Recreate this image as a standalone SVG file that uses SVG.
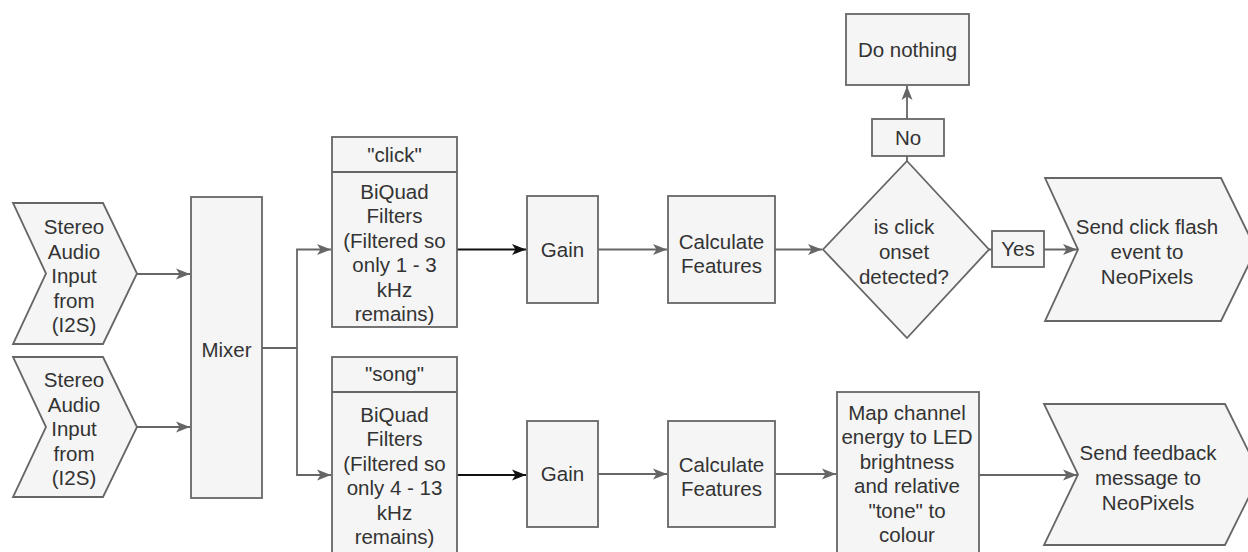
<svg xmlns="http://www.w3.org/2000/svg" width="1248" height="552" viewBox="0 0 1248 552">
<style>
.n{fill:#f5f5f5;stroke:#666;stroke-width:1.8}
.t{font-family:"Liberation Sans",Arial,Helvetica,sans-serif;font-size:20.5px;fill:#333;text-anchor:middle}
.c{fill:none;stroke:#666;stroke-width:1.8}
.k{fill:none;stroke:#111;stroke-width:1.8}
</style>
<defs>
<marker id="a" markerUnits="userSpaceOnUse" markerWidth="16" markerHeight="12" refX="14" refY="6" orient="auto">
<path d="M0,0.5 L14,6 L0,11.5 L3.5,6 z" fill="#666"/>
</marker>
<marker id="b" markerUnits="userSpaceOnUse" markerWidth="16" markerHeight="12" refX="14" refY="6" orient="auto">
<path d="M0,0.5 L14,6 L0,11.5 L3.5,6 z" fill="#111"/>
</marker>
</defs>
<rect width="1248" height="552" fill="#fff"/>

<g id="connectors">
<path class="c" d="M137,274 H190" marker-end="url(#a)"/>
<path class="c" d="M137,427 H190" marker-end="url(#a)"/>
<path class="c" d="M262,348 H297 V249.5 H331" marker-end="url(#a)"/>
<path class="c" d="M297,348 V475 H331" marker-end="url(#a)"/>
<path class="k" d="M457,249.5 H526" marker-end="url(#b)"/>
<path class="k" d="M457,475 H526" marker-end="url(#b)"/>
<path class="c" d="M598,249.5 H667" marker-end="url(#a)"/>
<path class="c" d="M598,474 H667" marker-end="url(#a)"/>
<path class="c" d="M775,249.5 H822" marker-end="url(#a)"/>
<path class="c" d="M775,474 H836" marker-end="url(#a)"/>
<path class="c" d="M907,161 V86" marker-end="url(#a)"/>
<path class="c" d="M989,249.5 H1077" marker-end="url(#a)"/>
<path class="c" d="M979,475 H1077" marker-end="url(#a)"/>
<g id="label-no"><rect class="n" x="872" y="119" width="72" height="37"/><text class="t" x="908" y="145">No</text></g>
<g id="label-yes"><rect class="n" x="992" y="231" width="52" height="36"/><text class="t" x="1018" y="256">Yes</text></g>
</g>

<g id="input1">
<path class="n" d="M13,203 H103 L137,273.5 L103,344 H13 L46,273.5 Z"/>
<text class="t" x="74"><tspan x="74" y="234">Stereo</tspan><tspan x="74" y="258.5">Audio</tspan><tspan x="74" y="283">Input</tspan><tspan x="74" y="307.5">from</tspan><tspan x="74" y="332">(I2S)</tspan></text>
</g>
<g id="input2">
<path class="n" d="M13,357 H103 L137,427 L103,497 H13 L46,427 Z"/>
<text class="t" x="74"><tspan x="74" y="387">Stereo</tspan><tspan x="74" y="411.5">Audio</tspan><tspan x="74" y="436">Input</tspan><tspan x="74" y="460.5">from</tspan><tspan x="74" y="485">(I2S)</tspan></text>
</g>
<g id="mixer">
<rect class="n" x="191" y="197" width="71" height="301"/>
<text class="t" x="226.5" y="357">Mixer</text>
</g>
<g id="click">
<rect class="n" x="332" y="137" width="125" height="190"/>
<line x1="332" y1="172" x2="457" y2="172" stroke="#666" stroke-width="1.8"/>
<text class="t" x="394.5" y="162">"click"</text>
<text class="t"><tspan x="394.5" y="199">BiQuad</tspan><tspan x="394.5" y="223.4">Filters</tspan><tspan x="394.5" y="247.8">(Filtered so</tspan><tspan x="394.5" y="272.2">only 1 - 3</tspan><tspan x="394.5" y="296.6">kHz</tspan><tspan x="394.5" y="321">remains)</tspan></text>
</g>
<g id="song">
<rect class="n" x="332" y="357" width="125" height="201"/>
<line x1="332" y1="392" x2="457" y2="392" stroke="#666" stroke-width="1.8"/>
<text class="t" x="394.5" y="381">"song"</text>
<text class="t"><tspan x="394.5" y="422">BiQuad</tspan><tspan x="394.5" y="446.4">Filters</tspan><tspan x="394.5" y="470.8">(Filtered so</tspan><tspan x="394.5" y="495.2">only 4 - 13</tspan><tspan x="394.5" y="519.6">kHz</tspan><tspan x="394.5" y="544">remains)</tspan></text>
</g>
<g id="gain1">
<rect class="n" x="527" y="196" width="71" height="107"/>
<text class="t" x="562.5" y="257">Gain</text>
</g>
<g id="gain2">
<rect class="n" x="527" y="421" width="71" height="106"/>
<text class="t" x="562.5" y="481">Gain</text>
</g>
<g id="calc1">
<rect class="n" x="668" y="196" width="107" height="107"/>
<text class="t"><tspan x="721.5" y="249">Calculate</tspan><tspan x="721.5" y="273">Features</tspan></text>
</g>
<g id="calc2">
<rect class="n" x="668" y="421" width="107" height="106"/>
<text class="t"><tspan x="721.5" y="472">Calculate</tspan><tspan x="721.5" y="496">Features</tspan></text>
</g>
<g id="decision">
<path class="n" d="M907,161 L989,249.5 L907,338 L823,249.5 Z"/>
<text class="t"><tspan x="904" y="234">is click</tspan><tspan x="904" y="259">onset</tspan><tspan x="904" y="284">detected?</tspan></text>
</g>
<g id="donothing">
<rect class="n" x="846" y="14" width="123" height="71"/>
<text class="t" x="907.5" y="57">Do nothing</text>
</g>
<g id="sendclick">
<path class="n" d="M1045,178 H1221 L1256,249.5 L1221,321 H1045 L1078,249.5 Z"/>
<text class="t"><tspan x="1147" y="234">Send click flash</tspan><tspan x="1147" y="259">event to</tspan><tspan x="1147" y="284">NeoPixels</tspan></text>
</g>
<g id="map">
<rect class="n" x="837" y="392" width="142" height="166"/>
<text class="t"><tspan x="907" y="420">Map channel</tspan><tspan x="907" y="444.4">energy to LED</tspan><tspan x="907" y="468.8">brightness</tspan><tspan x="907" y="493.2">and relative</tspan><tspan x="907" y="517.6">"tone" to</tspan><tspan x="907" y="542">colour</tspan></text>
</g>
<g id="sendfeedback">
<path class="n" d="M1044,404 H1225 L1260,474.5 L1225,545 H1044 L1078,474.5 Z"/>
<text class="t"><tspan x="1148" y="460">Send feedback</tspan><tspan x="1148" y="485">message to</tspan><tspan x="1148" y="510">NeoPixels</tspan></text>
</g>
</svg>
